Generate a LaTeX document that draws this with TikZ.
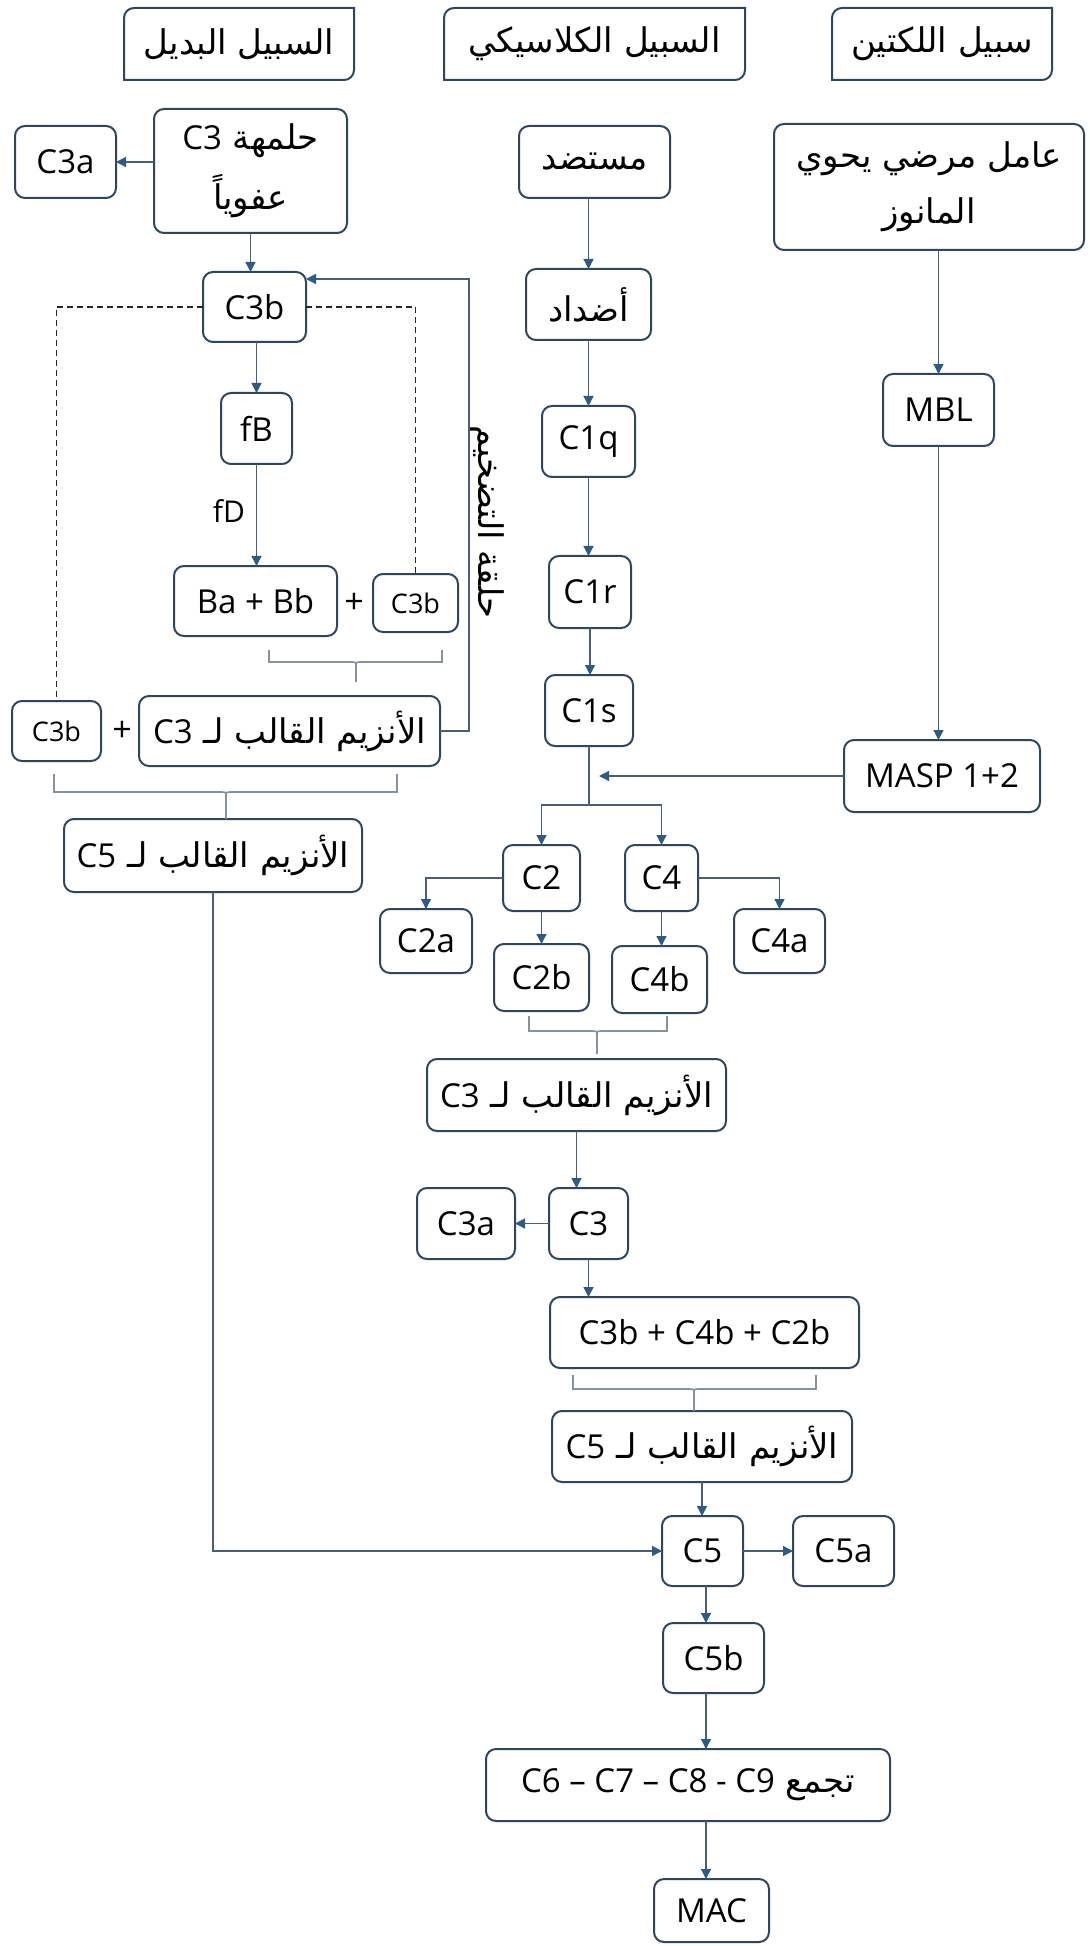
\documentclass[tikz,border=0pt]{standalone}
\usepackage{fontspec}
\setmainfont{Open Sans}
\newfontfamily\arfont[Script=Arabic]{DejaVu Sans}
\TeXXeTstate=1
\usetikzlibrary{arrows.meta}

\definecolor{boxline}{HTML}{2E475E}
\definecolor{conn}{HTML}{4A5F73}
\definecolor{tipcol}{HTML}{2D5B86}
\definecolor{bracecol}{HTML}{8593A0}

% right-to-left Arabic run, and a left-to-right Latin run inside it
\newcommand{\artext}[1]{{\arfont\fontsize{17}{25}\selectfont\beginR #1\endR}}
\newcommand{\lattext}[1]{\beginL{\normalfont\fontsize{16.5}{25}\selectfont #1}\endL}

% header frame: rounded top-left and bottom-right corners only
\newcommand{\diagframe}[1]{%
  \draw[boxline, line width=1pt]
    (#1.south west) -- ([yshift=-5pt]#1.north west)
    arc[start angle=180, end angle=90, radius=5pt]
    -- (#1.north east) -- ([yshift=5pt]#1.south east)
    arc[start angle=0, end angle=-90, radius=5pt] -- cycle;}

% grouping bracket with a centre stem
\newcommand{\grouper}[6]{% x-left, x-right, y-top, y-mid, x-stem, y-bottom
  \draw[bracket] (#1,#3) -- (#1,#4) -- ({#5-5},#4) .. controls (#5,#4) .. (#5,{#4+5}) -- (#5,#6);
  \draw[bracket] (#2,#3) -- (#2,#4) -- ({#5+5},#4) .. controls (#5,#4) .. (#5,{#4+5});}

\begin{document}
\begin{tikzpicture}[x=0.5pt, y=-0.5pt,
  spot/.style n args={4}{at={({(#1+#3)/2},{(#2+#4)/2})},
    minimum width={(#3-#1)*0.5pt}, minimum height={(#4-#2)*0.5pt}},
  box/.style={draw=boxline, line width=1pt, rounded corners=5pt, inner sep=0pt,
    outer sep=0pt, fill=white, text=black, align=center,
    font=\fontsize{16.5}{25}\selectfont},
  smallbox/.style={box, font=\fontsize{13.5}{16}\selectfont},
  headbox/.style={inner sep=0pt, outer sep=0pt, text=black,
    font=\fontsize{16.5}{20}\selectfont},
  link/.style={draw=conn, line width=0.65pt, -{Triangle[length=5pt, width=5pt, color=tipcol]}},
  plainlink/.style={draw=conn, line width=0.65pt},
  dashlink/.style={draw=black!85, line width=0.6pt, dash pattern=on 3pt off 2pt},
  bracket/.style={draw=bracecol, line width=0.8pt},
  sign/.style={inner sep=0pt, font=\fontsize{17}{18}\selectfont},
  lbl/.style={inner sep=0pt, font=\fontsize{15}{16}\selectfont}]

\useasboundingbox (0,0) rectangle (1089,1946);
\fill[white] (0,0) rectangle (1089,1946);

% ---------- column headers ----------
\node[headbox, spot={124}{8}{354}{80}] (hAlt) {\artext{السبيل البديل}};
\node[headbox, spot={444}{8}{745}{80}] (hCls) {\artext{السبيل الكلاسيكي}};
\node[headbox, spot={832}{8}{1052}{80}] (hLec) {\artext{سبيل اللكتين}};
\diagframe{hAlt}
\diagframe{hCls}
\diagframe{hLec}

% ---------- alternative pathway ----------
\node[box, spot={15}{126}{116}{198}] (c3aTop) {C3a};
\node[box, spot={154}{109}{347}{233}] (hydro)
  {\artext{حلمهة \lattext{C3}}\\[5pt]\artext{عفوياً}};
\node[box, spot={203}{272}{306}{342}] (c3bTop) {C3b};
\node[box, spot={221}{393}{292}{464}] (fB) {fB};
\node[lbl] (fDlab) at (229,511) {fD};
\node[box, spot={174}{566}{337}{636}] (BaBb) {Ba + Bb};
\node[sign] (plusA) at (354,603) {+};
\node[smallbox, spot={373}{574}{458}{632}] (c3bR) {C3b};
\node[smallbox, spot={12}{701}{101}{761}] (c3bL) {C3b};
\node[sign] (plusB) at (122,731) {+};
\node[box, spot={139}{696}{440}{766}] (convAltThree)
  {\artext{الأنزيم القالب لـ \lattext{C3}}};
\node[box, spot={64}{819}{362}{892}] (convAltFive)
  {\artext{الأنزيم القالب لـ \lattext{C5}}};
\node[headbox, rotate=-90] (ampLabel) at (487,522) {\artext{حلقة التضخيم}};

% ---------- classical pathway ----------
\node[box, spot={519}{126}{670}{198}] (antigen) {\artext{مستضد}};
\node[box, spot={526}{269}{651}{340}] (antibody) {\artext{أضداد}};
\node[box, spot={542}{406}{635}{477}] (c1q) {C1q};
\node[box, spot={549}{556}{631}{628}] (c1r) {C1r};
\node[box, spot={545}{675}{633}{746}] (c1s) {C1s};
\node[box, spot={503}{845}{580}{911}] (c2) {C2};
\node[box, spot={625}{845}{698}{911}] (c4) {C4};
\node[box, spot={380}{909}{472}{973}] (c2a) {C2a};
\node[box, spot={734}{909}{825}{973}] (c4a) {C4a};
\node[box, spot={494}{944}{589}{1011}] (c2b) {C2b};
\node[box, spot={612}{946}{707}{1013}] (c4b) {C4b};
\node[box, spot={427}{1059}{726}{1131}] (convThree)
  {\artext{الأنزيم القالب لـ \lattext{C3}}};
\node[box, spot={549}{1188}{628}{1259}] (c3) {C3};
\node[box, spot={417}{1188}{515}{1259}] (c3a) {C3a};
\node[box, spot={550}{1297}{859}{1368}] (sumB) {C3b + C4b + C2b};
\node[box, spot={552}{1411}{852}{1482}] (convFive)
  {\artext{الأنزيم القالب لـ \lattext{C5}}};
\node[box, spot={662}{1516}{743}{1586}] (c5) {C5};
\node[box, spot={793}{1516}{894}{1586}] (c5a) {C5a};
\node[box, spot={663}{1623}{764}{1693}] (c5b) {C5b};
\node[box, spot={486}{1749}{890}{1821}] (assembly)
  {\artext{تجمع \lattext{C6 – C7 – C8 - C9}}};
\node[box, spot={654}{1879}{769}{1942}] (mac) {MAC};

% ---------- lectin pathway ----------
\node[box, spot={774}{124}{1084}{250}] (mannose)
  {\artext{عامل مرضي يحوي}\\[3pt]\artext{المانوز}};
\node[box, spot={883}{374}{994}{446}] (mbl) {MBL};
\node[box, spot={844}{740}{1040}{812}] (masp) {MASP 1+2};

% ---------- helper points ----------
\coordinate (loopPt) at (469,279);
\coordinate (junction) at (589,805);
\coordinate (maspTip) at (599,774);
\coordinate (lowCol) at (706,0);

% ---------- alternative pathway connectors ----------
\draw[link] (c3aTop.east -| hydro.west) -- (c3aTop.east);
\draw[link] (hydro.south) -- (hydro.south |- c3bTop.north);
\draw[link] (fB.north |- c3bTop.south) -- (fB.north);
\draw[link] (fB.south) -- (fB.south |- BaBb.north);
\draw[dashlink] (c3bTop.west) -| (c3bL.north);
\draw[dashlink] (c3bTop.east) -| (c3bR.north);
\draw[link] (convAltThree.east) -| (loopPt) -- (loopPt -| c3bTop.east);
\grouper{269}{442}{650}{662}{356}{682}
\grouper{54}{397}{774}{792}{226}{819}
\draw[link] (convAltFive.south) |- (c5.west);

% ---------- classical pathway connectors ----------
\draw[link] (antigen.south -| antibody.north) -- (antibody.north);
\draw[link] (antibody.south) -- (antibody.south |- c1q.north);
\draw[link] (c1q.south) -- (c1q.south |- c1r.north);
\draw[link] (c1r.south) -- (c1r.south |- c1s.north);
\draw[plainlink] (c1s.south) -- (c1s.south |- junction);
\draw[link] (c1s.south |- junction) -| (c2.north);
\draw[link] (c1s.south |- junction) -| (c4.north);
\draw[link] (c2.west) -| (c2a.north);
\draw[link] (c4.east) -| (c4a.north);
\draw[link] (c2.south) -- (c2.south |- c2b.north);
\draw[link] (c4.south) -- (c4.south |- c4b.north);
\grouper{529}{667}{1016}{1031}{597}{1054}
\draw[link] (convThree.south) -- (convThree.south |- c3.north);
\draw[link] (c3.west) -- (c3a.east);
\draw[link] (c3.south) -- (c3.south |- sumB.north);
\grouper{573}{816}{1375}{1389}{694}{1411}
\draw[link] (convFive.south) -- (convFive.south |- c5.north);
\draw[link] (c5.east) -- (c5a.west);
\draw[link] (c5.south -| lowCol) -- (c5b.north -| lowCol);
\draw[link] (c5b.south -| lowCol) -- (assembly.north -| lowCol);
\draw[link] (assembly.south -| lowCol) -- (mac.north -| lowCol);

% ---------- lectin pathway connectors ----------
\draw[link] (mannose.south -| mbl.north) -- (mbl.north);
\draw[link] (mbl.south) -- (mbl.south |- masp.north);
\draw[link] (masp.west) -- (masp.west -| maspTip);
\end{tikzpicture}
\end{document}
